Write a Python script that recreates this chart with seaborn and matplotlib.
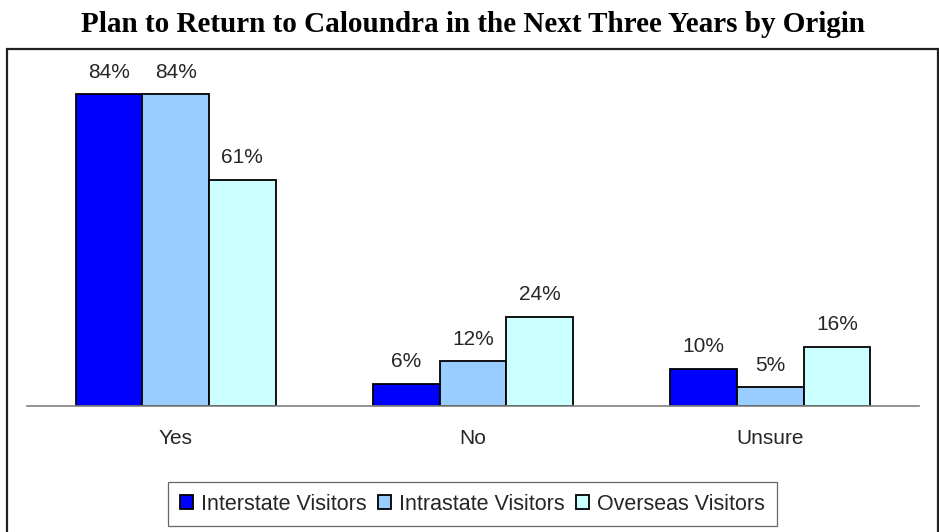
import matplotlib
matplotlib.use("Agg")
import matplotlib.pyplot as plt
from matplotlib.patches import Rectangle
import seaborn as sns
import pandas as pd

# Survey responses by visitor origin
responses = ["Yes", "No", "Unsure"]
origins = ["Interstate Visitors", "Intrastate Visitors", "Overseas Visitors"]
interstate = [84, 6, 10]
intrastate = [84, 12, 5]
overseas = [61, 24, 16]
colors = ["#0000FF", "#99CCFF", "#CCFFFF"]

df = pd.DataFrame({
    "Response": responses * 3,
    "Origin": [origins[0]] * 3 + [origins[1]] * 3 + [origins[2]] * 3,
    "Percent": interstate + intrastate + overseas,
})

sns.set_style("white")
plt.rcParams["font.family"] = ["Liberation Sans", "DejaVu Sans"]

W, H = 939, 532
fig = plt.figure(figsize=(W / 100, H / 100), dpi=100)
ax = fig.add_axes([27 / W, 1 - 406 / H, 892 / W, 371 / H])

sns.barplot(
    data=df, x="Response", y="Percent", hue="Origin",
    order=responses, hue_order=origins, palette=colors,
    width=0.672, saturation=1, edgecolor="black", linewidth=1.3,
    ax=ax, legend=True,
)

ax.set_xlim(-0.5, 2.5)
ax.set_ylim(0, 100)
ax.set_xlabel("")
ax.set_ylabel("")
ax.set_yticks([])
for side in ["top", "right", "left"]:
    ax.spines[side].set_visible(False)
ax.spines["bottom"].set_color("#808080")
ax.spines["bottom"].set_linewidth(1.2)

# category labels centered, boundary ticks between categories
ax.set_xticks(range(len(responses)))
ax.set_xticklabels(responses, fontsize=15)
ax.tick_params(axis="x", which="major", length=0, pad=16.5)
ax.set_xticks([-0.5, 0.5, 1.5, 2.5], minor=True)
ax.tick_params(axis="x", which="minor", length=5, width=1.2, color="#808080",
               direction="out")

for cont in ax.containers:
    ax.bar_label(cont, labels=[f"{int(v)}%" for v in cont.datavalues],
                 padding=9, fontsize=15, clip_on=False)

leg = ax.get_legend()
handles, labels = ax.get_legend_handles_labels()
leg.remove()
fig.legend(
    handles, labels, ncol=3, loc="center", bbox_to_anchor=(472.5 / W, 1 - 504 / H),
    frameon=True, fancybox=False, edgecolor="#404040", fontsize=15.5,
    handlelength=0.6, handleheight=0.6, handletextpad=0.4,
    columnspacing=0.5, borderpad=0.55,
)
fig.legends[0].get_frame().set_linewidth(0.9)

# outer chart border (runs past the lower edge of the canvas)
fig.patches.append(Rectangle((7 / W, -10 / H), 931 / W, (H + 10 - 49) / H,
                             transform=fig.transFigure, fill=False,
                             edgecolor="#202020", linewidth=1.6))

fig.text(472.5 / W, 1 - 25 / H,
         "Plan to Return to Caloundra in the Next Three Years by Origin",
         ha="center", va="center", fontsize=21, fontweight="bold",
         color="black", family=["Liberation Serif", "DejaVu Serif"])

fig.savefig("out.png", dpi=100)
